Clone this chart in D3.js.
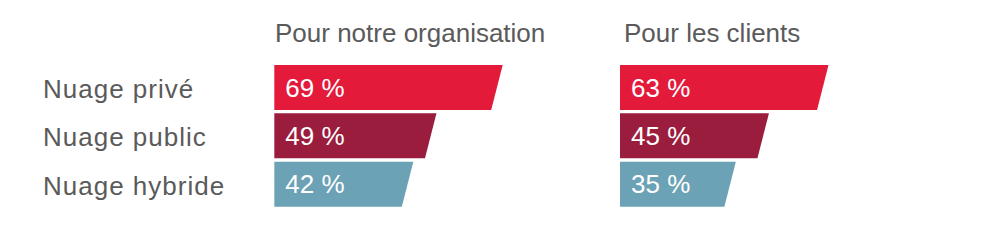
<!DOCTYPE html>
<html>
<head>
<meta charset="utf-8">
<script src="https://cdn.jsdelivr.net/npm/d3@7"></script>
<style>
  html, body { margin: 0; padding: 0; background: #fff; }
  svg { display: block; font-family: "Liberation Sans", Arial, Helvetica, sans-serif; }
</style>
</head>
<body>
<svg id="chart" width="1000" height="250"></svg>
<script>
const categories = ["Nuage privé", "Nuage public", "Nuage hybride"];
const panels = ["Pour notre organisation", "Pour les clients"];
const orgValues = [69, 49, 42];
const clientValues = [63, 45, 35];
const colors = ["#E41A3B", "#9B1D3E", "#6BA2B5"];

const svg = d3.select("#chart");
const fontSize = 26;
const textColor = "#5a5a5a";

const y = d3.scaleBand().domain(categories).range([65, 206.7]).paddingInner(0.069);
const x = d3.scaleLinear().domain([0, 100]).range([0, 331]);
const slant = 11.5;

// Row labels
svg.append("g").selectAll("text").data(categories).join("text")
  .attr("x", 43)
  .attr("y", d => y(d) + y.bandwidth() / 2 + 10.5)
  .attr("font-size", fontSize)
  .attr("letter-spacing", 1)
  .attr("fill", textColor)
  .text(d => d);

const panelData = [
  { title: panels[0], values: orgValues, x0: 274.3, tx: 275 },
  { title: panels[1], values: clientValues, x0: 620, tx: 624 }
];

panelData.forEach(p => {
  const g = svg.append("g");
  g.append("text")
    .attr("x", p.tx)
    .attr("y", 42)
    .attr("font-size", fontSize)
    .attr("fill", textColor)
    .text(p.title);

  const rows = categories.map((c, i) => ({ c, v: p.values[i], color: colors[i] }));

  g.selectAll("path").data(rows).join("path")
    .attr("d", d => {
      const top = y(d.c), bot = y(d.c) + y.bandwidth();
      const xr = p.x0 + x(d.v);
      return `M${p.x0},${top}L${xr},${top}L${xr - slant},${bot}L${p.x0},${bot}Z`;
    })
    .attr("fill", d => d.color);

  g.selectAll("text.val").data(rows).join("text")
    .attr("class", "val")
    .attr("x", p.x0 + 11)
    .attr("y", d => y(d.c) + y.bandwidth() / 2 + 9)
    .attr("font-size", fontSize)
    .attr("fill", "#fff")
    .text(d => d.v + " %");
});
</script>
</body>
</html>
